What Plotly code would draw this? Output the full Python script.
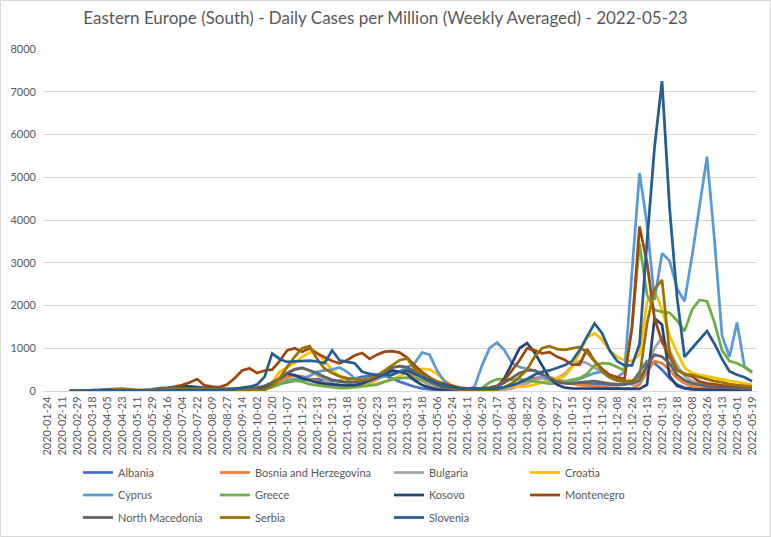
import pandas as pd
from plotly import graph_objects as go

# 9-day sampling grid (first point 2020-01-24)
dates = pd.date_range("2020-01-24", periods=95, freq="9D")
tick_dates = pd.date_range("2020-01-24", periods=48, freq="18D")
tick_labels = [d.strftime("%Y-%m-%d") for d in tick_dates]

N = None
albania = [N, N, N, 0, 0, 0, 2, 5, 5, 5,
           5, 5, 5, 10, 15, 20, 30, 40, 40, 40,
           45, 45, 45, 50, 50, 45, 50, 60, 70, 90,
           130, 170, 200, 240, 270, 280, 270, 250, 230, 240,
           260, 290, 330, 360, 380, 360, 300, 220, 160, 100,
           60, 35, 20, 12, 8, 8, 8, 8, 8, 15,
           30, 60, 120, 200, 260, 300, 310, 280, 230, 200,
           180, 170, 170, 170, 160, 150, 140, 150, 200, 450,
           700, 650, 500, 300, 150, 80, 50, 30, 30, 30,
           25, 25, 25, 25, 20]
bosnia = [N, N, N, 0, 0, 0, 2, 5, 5, 5,
          3, 3, 3, 5, 8, 15, 25, 40, 50, 60,
          60, 50, 45, 40, 40, 45, 50, 55, 70, 100,
          150, 230, 320, 360, 340, 280, 220, 170, 150, 130,
          120, 130, 150, 200, 280, 350, 420, 450, 420, 330,
          230, 150, 100, 60, 30, 15, 10, 8, 8, 10,
          15, 30, 60, 120, 200, 280, 330, 320, 280, 220,
          170, 140, 130, 120, 100, 80, 60, 50, 60, 150,
          450, 700, 650, 500, 300, 180, 110, 70, 50, 40,
          30, 25, 20, 20, 15]
bulgaria = [N, N, N, 0, 0, 0, 3, 3, 3, 3,
            3, 2, 2, 2, 2, 2, 5, 10, 15, 25,
            30, 25, 20, 15, 15, 15, 20, 25, 40, 80,
            150, 280, 420, 520, 540, 480, 380, 270, 170, 150,
            140, 150, 170, 220, 320, 430, 540, 580, 520, 380,
            260, 160, 90, 60, 40, 25, 15, 10, 10, 15,
            25, 40, 70, 120, 180, 250, 300, 280, 300, 400,
            580, 700, 650, 550, 430, 320, 260, 200, 150, 200,
            600, 1000, 1250, 950, 600, 350, 230, 170, 130, 110,
            90, 80, 70, 60, 50]
croatia = [N, N, N, 0, 0, 0, 5, 10, 12, 10,
           5, 2, 2, 2, 2, 5, 10, 20, 30, 25,
           20, 25, 35, 50, 60, 60, 50, 50, 60, 100,
           200, 450, 550, 650, 800, 900, 900, 700, 500, 350,
           200, 150, 140, 150, 170, 210, 270, 350, 430, 480,
           520, 500, 400, 250, 130, 60, 30, 20, 20, 30,
           50, 80, 110, 100, 110, 150, 200, 250, 300, 350,
           550, 900, 1250, 1350, 1200, 950, 800, 720, 700, 850,
           2100, 2350, 1900, 1300, 900, 550, 420, 380, 340, 300,
           270, 240, 210, 180, 150]
cyprus = [N, N, N, 0, 0, 0, 5, 10, 10, 8,
          5, 2, 2, 2, 2, 2, 2, 2, 3, 5,
          5, 5, 5, 5, 5, 10, 10, 15, 30, 60,
          100, 150, 250, 280, 300, 350, 450, 480, 500, 550,
          450, 300, 220, 250, 300, 350, 420, 450, 550, 650,
          900, 850, 480, 220, 100, 50, 40, 100, 600, 1000,
          1130, 950, 650, 560, 520, 480, 350, 250, 200, 200,
          230, 280, 350, 420, 450, 350, 320, 450, 2800, 5100,
          3900, 2130, 3220, 3050, 2400, 2100, 3150, 4340, 5480, 3530,
          1300, 800, 1600, 570, 450]
greece = [N, N, N, 0, 0, 2, 5, 5, 5, 5,
          5, 2, 2, 2, 2, 2, 2, 2, 3, 5,
          5, 8, 15, 20, 25, 25, 30, 30, 35, 50,
          90, 160, 230, 240, 220, 160, 130, 110, 90, 70,
          70, 90, 100, 120, 150, 220, 270, 300, 310, 280,
          260, 240, 200, 160, 110, 70, 50, 40, 70, 200,
          280, 270, 260, 280, 250, 230, 200, 170, 180, 220,
          250, 300, 400, 600, 650, 640, 560, 480, 1500, 3450,
          2250, 1900, 1850, 1830, 1650, 1400, 1900, 2130, 2100, 1600,
          950, 700, 650, 560, 430]
kosovo = [N, N, N, 0, 0, 0, 0, 10, 15, 15,
          15, 8, 5, 5, 10, 30, 60, 100, 120, 110,
          90, 70, 50, 40, 30, 30, 35, 40, 50, 100,
          180, 280, 400, 370, 300, 250, 200, 170, 150, 140,
          130, 140, 170, 250, 330, 400, 480, 450, 400, 250,
          140, 80, 40, 25, 15, 10, 10, 10, 10, 20,
          60, 300, 650, 1000, 1120, 900, 600, 300, 150, 80,
          60, 60, 60, 60, 60, 60, 60, 60, 60, 50,
          150, 1700, 1550, 350, 120, 60, 40, 30, 25, 25,
          20, 20, 20, 20, 20]
montenegro = [N, N, N, 0, 0, 0, 5, 20, 20, 15,
              10, 5, 2, 2, 2, 10, 60, 100, 140, 200,
              280, 130, 100, 90, 150, 300, 480, 530, 420, 480,
              500, 700, 950, 1000, 920, 1000, 880, 790, 700, 650,
              720, 830, 890, 750, 850, 920, 930, 900, 780, 600,
              440, 320, 220, 170, 120, 80, 60, 60, 70, 80,
              120, 250, 480, 720, 1000, 950, 880, 910, 800, 730,
              620, 620, 980, 700, 520, 380, 320, 280, 1500, 3850,
              3000, 1700, 1150, 800, 490, 400, 340, 220, 180, 150,
              130, 110, 100, 90, 80]
north_macedonia = [N, N, N, 0, 0, 0, 5, 10, 15, 20,
                   25, 15, 15, 20, 40, 70, 80, 80, 70, 60,
                   60, 50, 50, 45, 40, 50, 60, 70, 80, 120,
                   200, 300, 420, 500, 540, 480, 420, 330, 260, 220,
                   200, 210, 230, 280, 350, 450, 550, 580, 560, 450,
                   330, 220, 140, 70, 40, 25, 20, 15, 20, 50,
                   100, 200, 320, 420, 480, 480, 400, 300, 220, 180,
                   170, 200, 220, 230, 200, 170, 160, 160, 180, 250,
                   600, 850, 800, 650, 380, 250, 180, 140, 110, 90,
                   80, 70, 60, 50, 45]
serbia = [N, N, N, 0, 0, 0, 5, 15, 40, 55,
          55, 40, 25, 15, 15, 20, 30, 45, 50, 55,
          60, 50, 40, 25, 15, 10, 10, 15, 15, 20,
          120, 300, 560, 800, 1000, 1050, 750, 520, 420, 340,
          300, 270, 260, 290, 360, 480, 620, 720, 760, 520,
          380, 280, 200, 130, 70, 40, 20, 15, 15, 20,
          40, 90, 180, 330, 500, 800, 1000, 1050, 980, 960,
          1000, 1030, 900, 700, 470, 320, 240, 230, 240, 330,
          1580, 2380, 2600, 900, 490, 400, 370, 320, 280, 230,
          200, 160, 140, 120, 100]
slovenia = [N, N, N, 0, 0, 0, 20, 30, 25, 15,
            10, 5, 5, 5, 5, 5, 10, 20, 30, 20,
            15, 20, 20, 30, 25, 50, 80, 100, 150, 330,
            880, 750, 680, 690, 700, 710, 690, 650, 950, 720,
            680, 650, 450, 400, 370, 370, 380, 450, 480, 400,
            330, 250, 180, 130, 90, 60, 50, 50, 50, 55,
            60, 90, 130, 200, 280, 380, 450, 480, 540, 600,
            700, 950, 1270, 1580, 1350, 950, 700, 600, 600, 1100,
            3500, 5700, 7250, 4300, 2200, 800, 1000, 1200, 1400, 1100,
            750, 460, 380, 320, 230]

# (name, values, colour, legend column)
series = [
    ("Albania", albania, "#4472C4", "legend"),
    ("Bosnia and Herzegovina", bosnia, "#ED7D31", "legend2"),
    ("Bulgaria", bulgaria, "#A5A5A5", "legend3"),
    ("Croatia", croatia, "#FFC000", "legend4"),
    ("Cyprus", cyprus, "#5B9BD5", "legend"),
    ("Greece", greece, "#70AD47", "legend2"),
    ("Kosovo", kosovo, "#264478", "legend3"),
    ("Montenegro", montenegro, "#9E480E", "legend4"),
    ("North Macedonia", north_macedonia, "#636363", "legend"),
    ("Serbia", serbia, "#997300", "legend2"),
    ("Slovenia", slovenia, "#255E91", "legend3"),
]

fig = go.Figure()
for name, vals, color, leg in series:
    fig.add_trace(go.Scatter(x=dates, y=vals, name=name, mode="lines",
                             legend=leg, legendgroup=name,
                             line=dict(color=color, width=2.75)))

W, H = 771, 537
ml, mr, mt, mb = 43, 14, 49, 146
pw, ph = W - ml - mr, H - mt - mb

# legend columns laid out like the Excel legend grid (left edge in px)
legend_left = {"legend": 78, "legend2": 215, "legend3": 389, "legend4": 525}
legend_top = 458
for leg, left in legend_left.items():
    fig.update_layout({leg: dict(
        orientation="v", x=(left - ml) / pw, xanchor="left",
        y=-(legend_top - (H - mb)) / ph, yanchor="top",
        itemwidth=30, tracegroupgap=3.5, bgcolor="rgba(0,0,0,0)",
        font=dict(family="Lato", size=11, color="#595959"))})

fig.update_layout(
    width=W, height=H,
    margin=dict(l=ml, r=mr, t=mt, b=mb, autoexpand=False),
    paper_bgcolor="white", plot_bgcolor="white",
    font=dict(family="Lato", size=11, color="#595959"),
    title=dict(text="Eastern Europe (South) - Daily Cases per Million (Weekly Averaged) - 2022-05-23",
               x=0.5, xref="container", xanchor="center",
               y=1 - 18 / H, yref="container", yanchor="middle",
               font=dict(size=17, color="#595959")),
    showlegend=True,
    shapes=[dict(type="rect", xref="paper", yref="paper",
                 x0=(-ml + 0.5) / pw, x1=1 + (mr - 0.5) / pw,
                 y0=(-mb + 0.5) / ph, y1=1 + (mt - 0.5) / ph,
                 line=dict(color="#D9D9D9", width=1))],
)
fig.update_xaxes(type="date", range=["2020-01-19", "2022-05-25"],
                 tickmode="array", tickvals=tick_dates, ticktext=tick_labels,
                 tickangle=-90, showgrid=False, showline=True,
                 linecolor="#D9D9D9", linewidth=1, ticks="", automargin=False)
fig.update_yaxes(range=[0, 8000], dtick=1000, tickformat="d",
                 showgrid=True, gridcolor="#D9D9D9", gridwidth=1,
                 zeroline=False, showline=False, ticks="", automargin=False,
                 ticklabelstandoff=6)

# page body has a default 8px margin; drop it so the chart sits at the page corner
fig.write_html("out.html", config={"displayModeBar": False},
               post_script="document.body.style.margin='0';")
